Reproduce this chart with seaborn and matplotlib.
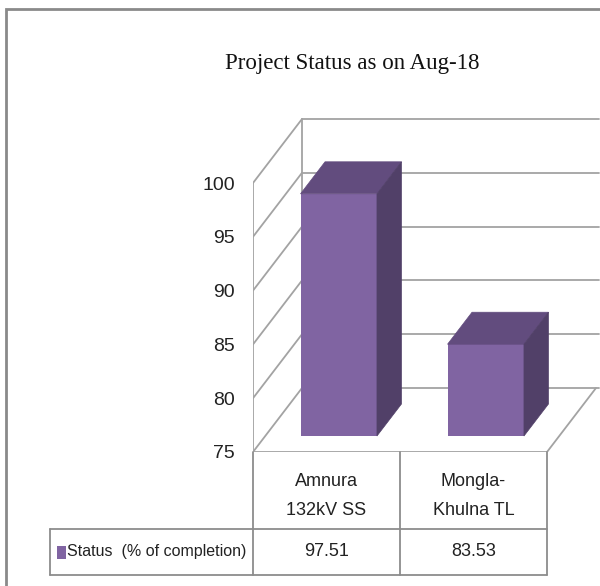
import numpy as np
import pandas as pd
import seaborn as sns
import matplotlib.pyplot as plt
from matplotlib.patches import Polygon, Rectangle

# ---------------- data ----------------
projects = ["Amnura\n132kV SS", "Mongla-\nKhulna TL"]
status = [97.51, 83.53]
series_name = "Status  (% of completion)"
y_ticks = [75, 80, 85, 90, 95, 100]
title = "Project Status as on Aug-18"

sns.set_style("white")
plt.rcParams['font.family'] = ['Liberation Sans Narrow', 'Liberation Sans']

FRONT = "#8064A2"
TOP = "#624C7E"
SIDE = "#514068"
GRID = "#a3a3a3"
EDGE = "#8c8c8c"
TXT = "#222222"

W, H = 600, 586
fig = plt.figure(figsize=(W / 100, H / 100), dpi=100)

# layout in pixels (front plane of the 3D box)
x0, x1 = 253, 600      # axes left / right
yb, yt = 452, 100      # axes bottom / top
px_cat = 147           # pixels per category
px_unit = 10.76        # pixels per value unit
DX = 49 / px_cat       # depth offset, category units
DY = 64 / px_unit      # depth offset, value units

ax = fig.add_axes([x0 / W, 1 - yb / H, (x1 - x0) / W, (yb - yt) / H])

df = pd.DataFrame({"project": projects, "status": status})
sns.barplot(data=df, x="project", y="status", color=FRONT, saturation=1,
            width=0.52, ax=ax, zorder=3)

ymin = y_ticks[0]
ymax = y_ticks[-1]
left = -0.5
right = len(projects) - 0.5

# bars sit in the middle of the floor depth (0.25 .. 0.75)
f = 0.25
for p, v in zip(list(ax.patches), status):
    p.set_x(p.get_x() + f * DX)
    p.set_y(ymin + f * DY)
    p.set_height(v - ymin)
    p.set_linewidth(0)
    xl, xr = p.get_x(), p.get_x() + p.get_width()
    b, t = ymin + f * DY, v + f * DY
    d = 0.5
    ax.add_patch(Polygon([(xl, t), (xr, t), (xr + d * DX, t + d * DY), (xl + d * DX, t + d * DY)],
                         closed=True, facecolor=TOP, edgecolor=TOP, lw=0.5, zorder=3))
    ax.add_patch(Polygon([(xr, b), (xr + d * DX, b + d * DY), (xr + d * DX, t + d * DY), (xr, t)],
                         closed=True, facecolor=SIDE, edgecolor=SIDE, lw=0.5, zorder=3))

# walls and floor
lw = 1.3
for v in y_ticks:
    ax.plot([left, left + DX], [v, v + DY], color=GRID, lw=lw, zorder=1)
    ax.plot([left + DX, right + DX + 0.02], [v + DY, v + DY], color=GRID, lw=lw, zorder=1)
ax.plot([left, left], [ymin, ymax], color=GRID, lw=lw, zorder=1)
ax.plot([left + DX, left + DX], [ymin + DY, ymax + DY], color=GRID, lw=lw, zorder=1)
ax.plot([left, right], [ymin, ymin], color=GRID, lw=lw, zorder=1)
ax.plot([right, right + DX], [ymin, ymin + DY], color=GRID, lw=lw, zorder=1)

ax.set_xlim(left, left + (x1 - x0) / px_cat)
ax.set_ylim(ymin, ymin + (yb - yt) / px_unit)
ax.set_yticks(y_ticks)
ax.set_xticks([])
ax.set_xlabel("")
ax.set_ylabel("")
ax.tick_params(axis='y', length=0, pad=13, labelsize=14, labelcolor=TXT)
for s in ax.spines.values():
    s.set_visible(False)
ax.patch.set_alpha(0)

# ---------------- data table (below the floor) ----------------
hdr_h = 77 / px_unit
row_h = 46 / px_unit
lab_w = 203 / px_cat
y_hdr = ymin - hdr_h
y_row = y_hdr - row_h
tkw = dict(color=EDGE, lw=1.3, clip_on=False, zorder=2)
for xc in np.arange(left, right + 0.5, 1.0):
    ax.plot([xc, xc], [ymin, y_row], **tkw)
ax.plot([left - lab_w, right], [y_hdr, y_hdr], **tkw)
ax.plot([left - lab_w, right], [y_row, y_row], **tkw)
ax.plot([left - lab_w, left - lab_w], [y_hdr, y_row], **tkw)

for j, (name, v) in enumerate(zip(projects, status)):
    ax.text(j, ymin - hdr_h / 2 - 0.5, name, ha='center', va='center', fontsize=13,
            linespacing=1.9, color=TXT, clip_on=False)
    ax.text(j, y_hdr - row_h / 2, f"{v:.2f}", ha='center', va='center', fontsize=13,
            color=TXT, clip_on=False)
ax.text(left - lab_w + 17 / px_cat, y_hdr - row_h / 2, series_name, ha='left', va='center',
        fontsize=11.5, color=TXT, clip_on=False)

# legend key in the row label
ax.add_patch(Rectangle((left - lab_w + 7 / px_cat, y_hdr - row_h / 2 - 6.5 / px_unit),
                       9 / px_cat, 13 / px_unit, facecolor=FRONT, edgecolor="none",
                       clip_on=False))

fig.text(352 / W, 1 - 63 / H, title, ha='center', va='center', fontsize=16.5,
         family='Liberation Serif', color="#111111")

# chart border
fig.add_artist(Rectangle((6 / W, -0.1), 1.2, 1 - 9 / H + 0.1, transform=fig.transFigure,
                         fill=False, edgecolor="#8a8a8a", lw=2))

fig.savefig("out.png", dpi=100)
